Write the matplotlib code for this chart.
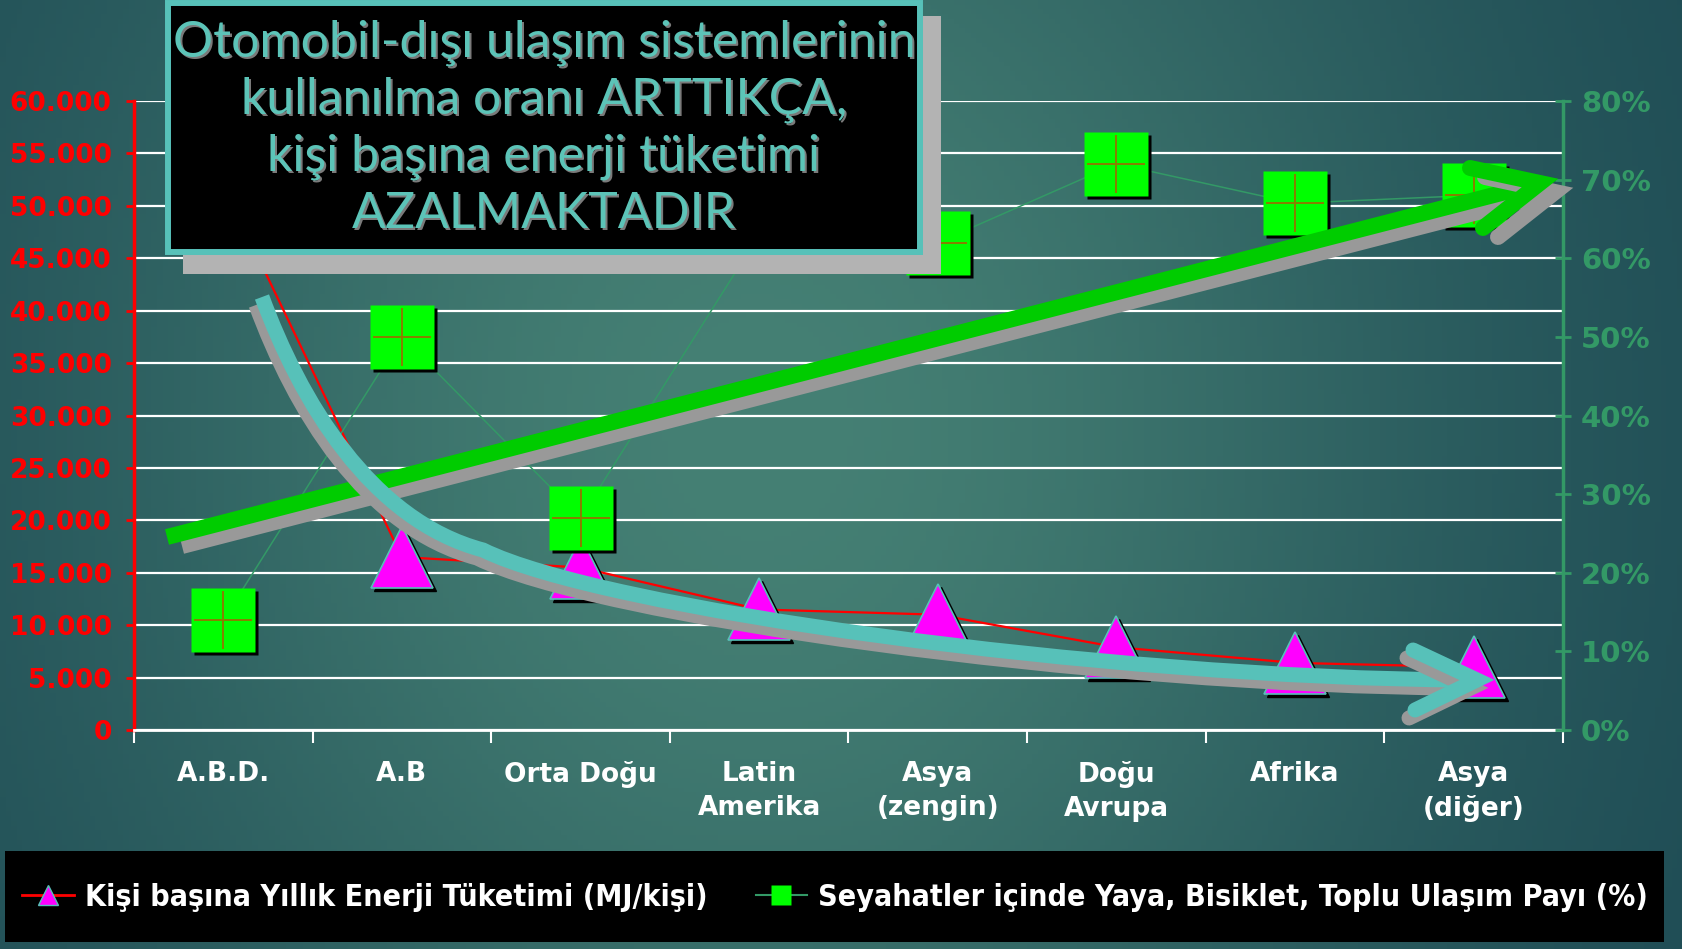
import numpy as np
import matplotlib
matplotlib.use("Agg")
import matplotlib.pyplot as plt
from matplotlib.patches import Rectangle, PathPatch
from matplotlib.path import Path
from matplotlib.lines import Line2D
from matplotlib.transforms import offset_copy

# data
categories = ["A.B.D.", "A.B", "Orta Doğu", "Latin\nAmerika", "Asya\n(zengin)",
              "Doğu\nAvrupa", "Afrika", "Asya\n(diğer)"]
energy_mj = [52000, 16500, 15500, 11500, 11000, 7900, 6400, 6000]
share_pct = [14, 50, 27, 63, 62, 72, 67, 68]
left_ticks = list(range(0, 60001, 5000))
right_ticks = list(range(0, 81, 10))

title_lines = ["Otomobil-dışı ulaşım sistemlerinin",
               "kullanılma oranı ARTTIKÇA,",
               "kişi başına enerji tüketimi",
               "AZALMAKTADIR"]
legend_labels = ["Kişi başına Yıllık Enerji Tüketimi (MJ/kişi)",
                 "Seyahatler içinde Yaya, Bisiklet, Toplu Ulaşım Payı (%)"]

W, H = 1683, 949
RED = "#ff0000"
SEA = "#339966"
TEAL = "#57c1b9"
GRAY = "#999999"

plt.rcParams['font.family'] = ['DejaVu Sans']
fig = plt.figure(figsize=(W / 100, H / 100), dpi=100)


def px(x0, y0, x1, y1):
    return [x0 / W, 1 - y1 / H, (x1 - x0) / W, (y1 - y0) / H]


# background gradient
bg = fig.add_axes([0, 0, 1, 1], zorder=-10)
yy, xx = np.mgrid[0:1:200j, 0:1:300j]
t = np.exp(-((xx - 0.45) / 0.42) ** 2 - ((yy - 0.45) / 0.9) ** 2)
dark = np.array([0x1b, 0x47, 0x52]) / 255
light = np.array([0x45, 0x80, 0x74]) / 255
img = dark + (light - dark) * t[..., None]
bg.imshow(img, extent=[0, 1, 0, 1], aspect='auto', origin='upper')
bg.axis('off')

# main chart
ax = fig.add_axes(px(134, 101, 1563, 730))
ax.patch.set_visible(False)
x = np.arange(len(categories))
ax.set_xlim(-0.5, len(categories) - 0.5)
ax.set_ylim(0, 60000)
ax.set_yticks(left_ticks)
ax.set_yticklabels([f"{v:,}".replace(",", ".") for v in left_ticks])
ax.yaxis.grid(True, color='white', lw=1.6)
ax.set_axisbelow(True)
ax.set_xticks(x)
ax.set_xticklabels(categories)
ax.set_xticks(np.arange(-0.5, len(categories)), minor=True)
ax.tick_params(axis='x', which='major', length=0, pad=22, colors='white',
               labelsize=19)
ax.tick_params(axis='x', which='minor', length=9, width=1.5, color='white',
               direction='out')
for lab in ax.get_xticklabels():
    lab.set_fontweight('bold')
    lab.set_linespacing(1.4)
ax.tick_params(axis='y', length=6, width=2, color=RED, labelcolor=RED,
               labelsize=19, pad=10)
for lab in ax.get_yticklabels():
    lab.set_fontweight('bold')
for s in ['top', 'right']:
    ax.spines[s].set_visible(False)
ax.spines['left'].set_color(RED)
ax.spines['left'].set_linewidth(2.5)
ax.spines['bottom'].set_color('white')
ax.spines['bottom'].set_linewidth(2)

ax2 = ax.twinx()
ax2.set_ylim(0, 80)
ax2.set_yticks(right_ticks)
ax2.set_yticklabels([f"{v}%" for v in right_ticks])
ax2.tick_params(axis='y', length=12, width=2, direction='inout', color=SEA,
                labelcolor=SEA, labelsize=21, pad=7)
for lab in ax2.get_yticklabels():
    lab.set_fontweight('bold')
for s in ['top', 'left', 'bottom']:
    ax2.spines[s].set_visible(False)
ax2.spines['right'].set_color(SEA)
ax2.spines['right'].set_linewidth(2.5)

# energy series (triangles)
sh1 = offset_copy(ax.transData, fig=fig, x=3, y=-3, units='dots')
ax.plot(x, energy_mj, color=RED, lw=1.6, zorder=3, clip_on=False)
ax.plot(x, energy_mj, ls='none', marker='^', ms=44, mfc='black', mec='black',
        transform=sh1, zorder=4, clip_on=False)
ax.plot(x, energy_mj, ls='none', marker='^', ms=44, mfc='#ff00ff', mec=TEAL,
        mew=1.2, zorder=5, clip_on=False)

# share series (squares)
sh2 = offset_copy(ax2.transData, fig=fig, x=3, y=-3, units='dots')
ax2.plot(x, share_pct, color=SEA, lw=1.1, zorder=3, clip_on=False)
ax2.plot(x, share_pct, ls='none', marker='s', ms=46, mfc='black', mec='none',
         transform=sh2, zorder=4, clip_on=False)
ax2.plot(x, share_pct, ls='none', marker='s', ms=46, mfc='#00ff00', mec='none',
         zorder=5, clip_on=False)
ax2.plot(x, share_pct, ls='none', marker='+', ms=42, mec='#8a7d00', mew=1.4,
         zorder=6, clip_on=False)

# overlay: trend arrows and title box
ov = fig.add_axes([0, 0, 1, 1], zorder=10)
ov.set_xlim(0, W)
ov.set_ylim(H, 0)
ov.axis('off')
ov.patch.set_visible(False)


def chevron(dx, dy, shaft_path, tip, barbs, color, lw):
    verts = [(vx + dx, vy + dy) for vx, vy in shaft_path.vertices]
    ov.add_patch(PathPatch(Path(verts, shaft_path.codes), fill=False,
                           edgecolor=color, lw=lw, capstyle='butt'))
    ov.plot([barbs[0][0] + dx, tip[0] + dx, barbs[1][0] + dx],
            [barbs[0][1] + dy, tip[1] + dy, barbs[1][1] + dy],
            color=color, lw=lw, solid_capstyle='round',
            solid_joinstyle='miter')


green_shaft = Path([(167, 537), (1525, 187)])
green_tip = (1540, 183)
green_barbs = [(1470, 168), (1483, 228)]
chevron(15, 9, green_shaft, green_tip, green_barbs, GRAY, 11.5)
chevron(0, 0, green_shaft, green_tip, green_barbs, '#00cc00', 11.5)

teal_shaft = Path([(262, 297), (300, 400), (370, 520), (483, 550),
                   (600, 608), (1100, 678), (1466, 680)],
                  [Path.MOVETO, Path.CURVE4, Path.CURVE4, Path.CURVE4,
                   Path.CURVE4, Path.CURVE4, Path.CURVE4])
teal_tip = (1477, 680)
teal_barbs = [(1413, 650), (1415, 710)]
chevron(-6, 8, teal_shaft, teal_tip, teal_barbs, GRAY, 10.8)
chevron(0, 0, teal_shaft, teal_tip, teal_barbs, TEAL, 10.8)

ov.add_patch(Rectangle((183, 16), 758, 258, facecolor='#b3b3b3',
                       edgecolor='none'))
ov.add_patch(Rectangle((168, 3), 752, 249, facecolor='black',
                       edgecolor=TEAL, lw=4.3))
for i, line in enumerate(title_lines):
    yc = 43 + i * 57
    ov.text(546, yc + 2, line, color='#7a7a7a', fontsize=36, ha='center',
            va='center', family='Lato')
    ov.text(544, yc, line, color='#5cc4b8', fontsize=36, ha='center',
            va='center', family='Lato')

# legend box
ov.add_patch(Rectangle((5, 851), 1659, 91, facecolor='black', edgecolor='none'))
handles = [Line2D([], [], color=RED, lw=2, marker='^', ms=15, mfc='#ff00ff',
                  mec=TEAL),
           Line2D([], [], color=SEA, lw=1.5, marker='s', ms=14, mfc='#00ff00',
                  mec='none')]
leg = fig.legend(handles, legend_labels, loc='center',
                 bbox_to_anchor=(835 / W, 1 - 897 / H), ncol=2, frameon=False,
                 prop={'weight': 'bold', 'size': 21.8, 'stretch': 'condensed'},
                 handlelength=1.7, handletextpad=0.35, columnspacing=1.6,
                 labelcolor='white')
leg.set_zorder(20)

fig.savefig("out.png", dpi=100)
